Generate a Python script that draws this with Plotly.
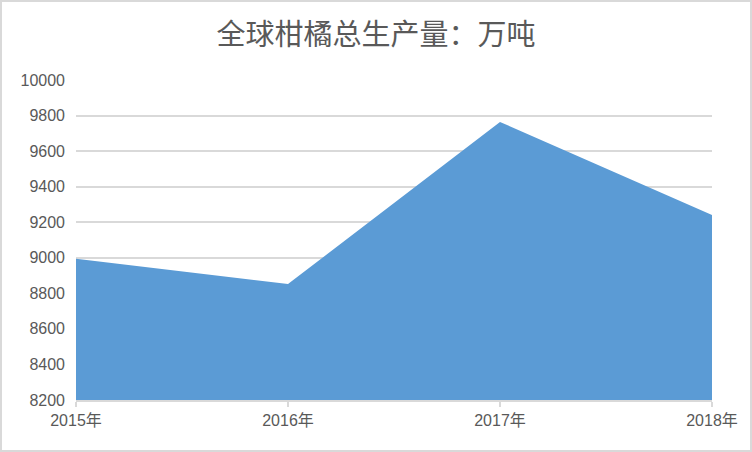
import plotly.graph_objects as go

# 全球柑橘总生产量（万吨）
years = ["2015年", "2016年", "2017年", "2018年"]
output = [8995, 8852, 9764, 9241]

W, H = 752, 452
L, R, T, B = 76, 40, 80, 52
pw, ph = W - L - R, H - T - B

fig = go.Figure()

fig.add_trace(go.Scatter(
    x=years, y=output,
    mode="lines",
    fill="tozeroy",
    fillcolor="#5b9bd5",
    line=dict(color="#5b9bd5", width=0),
    showlegend=False,
    hoverinfo="x+y"
))

# 外边框
fig.add_shape(
    type="rect", xref="paper", yref="paper",
    x0=-(L - 1) / pw, x1=1 + (R - 1) / pw,
    y0=-(B - 1) / ph, y1=1 + (T - 1) / ph,
    line=dict(color="#d9d9d9", width=2),
    layer="below"
)

fig.update_layout(
    width=W, height=H,
    margin=dict(l=L, r=R, t=T, b=B),
    paper_bgcolor="white",
    plot_bgcolor="white",
    title=dict(
        text="全球柑橘总生产量：万吨",
        x=0.5, xanchor="center",
        y=1 - 35 / H, yanchor="middle",
        font=dict(family="Noto Sans CJK SC", size=29, color="#595959")
    ),
    font=dict(family="Noto Sans CJK SC", color="#595959"),
    xaxis=dict(
        type="category",
        range=[0, len(years) - 1],
        showgrid=False,
        showline=True, linecolor="#d9d9d9", linewidth=1.5,
        ticks="outside", ticklen=5, tickcolor="#d9d9d9", tickwidth=1.5,
        tickfont=dict(family="Liberation Sans, Noto Sans CJK SC", size=16, color="#595959"),
    ),
    yaxis=dict(
        range=[8200, 10000],
        dtick=200,
        tickformat="d",
        showgrid=True, gridcolor="#d9d9d9", gridwidth=1.5,
        zeroline=False,
        showline=False,
        ticks="",
        ticklabelstandoff=10,
        tickfont=dict(family="Liberation Sans", size=16, color="#595959"),
    ),
)

# 去掉页面默认边距，让图表贴齐窗口
fig.write_html(
    "out.html",
    config={"displayModeBar": False},
    post_script="document.body.style.margin='0';"
)
